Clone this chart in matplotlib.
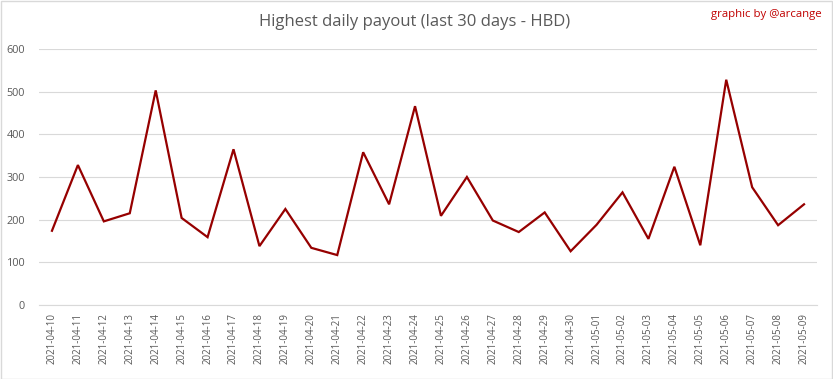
import matplotlib
matplotlib.use("Agg")
import matplotlib.pyplot as plt
from matplotlib.patches import Rectangle

dates = ["2021-04-10", "2021-04-11", "2021-04-12", "2021-04-13", "2021-04-14",
         "2021-04-15", "2021-04-16", "2021-04-17", "2021-04-18", "2021-04-19",
         "2021-04-20", "2021-04-21", "2021-04-22", "2021-04-23", "2021-04-24",
         "2021-04-25", "2021-04-26", "2021-04-27", "2021-04-28", "2021-04-29",
         "2021-04-30", "2021-05-01", "2021-05-02", "2021-05-03", "2021-05-04",
         "2021-05-05", "2021-05-06", "2021-05-07", "2021-05-08", "2021-05-09"]
payout = [174, 328, 196, 215, 503, 204, 159, 365, 138, 225,
          134, 117, 358, 236, 466, 209, 300, 198, 171, 217,
          126, 188, 264, 155, 324, 140, 528, 276, 187, 236]
yticks = [0, 100, 200, 300, 400, 500, 600]

plt.rcParams['font.family'] = ['Open Sans', 'DejaVu Sans']

W, H = 833, 379
fig = plt.figure(figsize=(W / 100, H / 100), dpi=100)
ax = fig.add_axes([39 / W, 1 - 305 / H, (817 - 39) / W, (305 - 49) / H])

x = list(range(len(dates)))
ax.plot(x, payout, color="#960000", lw=1.6, solid_joinstyle="miter")
ax.set_xlim(-0.5, len(dates) - 0.5)
ax.set_ylim(0, 600)
ax.set_yticks(yticks)
ax.set_yticklabels([str(v) for v in yticks])
ax.set_xticks(x)
ax.set_xticklabels(dates, rotation=90)
ax.tick_params(axis="both", length=0, colors="#595959")
ax.tick_params(axis="y", pad=10, labelsize=7.8)
ax.tick_params(axis="x", pad=6, labelsize=7)
ax.grid(axis="y", color="#d9d9d9", lw=0.8)
ax.set_axisbelow(True)
for s in ["top", "right", "left"]:
    ax.spines[s].set_visible(False)
ax.spines["bottom"].set_color("#d9d9d9")
ax.spines["bottom"].set_linewidth(0.8)

fig.text(415 / W, 1 - 22 / H, "Highest daily payout (last 30 days - HBD)",
         ha="center", va="center", fontsize=12, color="#595959")
fig.text(822 / W, 1 - 14 / H, "graphic by @arcange", ha="right", va="center",
         fontsize=8.2, color="#C00000")

fig.patches.append(Rectangle((0.5 / W, 0.5 / H), 1 - 1.5 / W, 1 - 1.5 / H,
                             transform=fig.transFigure, fill=False,
                             edgecolor="#d9d9d9", lw=1))
fig.savefig("out.png", dpi=100, facecolor="white")
